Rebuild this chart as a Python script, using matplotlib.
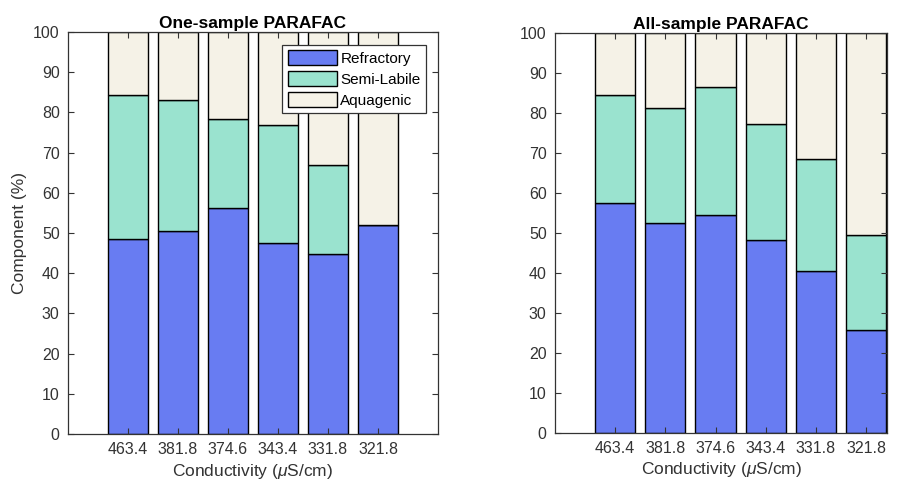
import numpy as np
import matplotlib.pyplot as plt

plt.rcParams['font.family'] = ['Liberation Sans', 'DejaVu Sans']
plt.rcParams['mathtext.fontset'] = 'custom'
plt.rcParams['mathtext.it'] = 'Liberation Sans:italic'

conductividad = ['463.4', '381.8', '374.6', '343.4', '331.8', '321.8']
componentes = ['Refractory', 'Semi-Labile', 'Aquagenic']
colores = ['#687cf2', '#9ae3cf', '#f5f2e7']

# One-sample PARAFAC (%)
ref_one = [48.5, 50.5, 56.3, 47.4, 44.9, 52.0]
semi_one = [35.9, 32.6, 22.1, 29.4, 21.9, 0.0]
aqua_one = [15.6, 16.9, 21.6, 23.2, 33.2, 48.0]

# All-sample PARAFAC (%)
ref_all = [57.4, 52.5, 54.4, 48.2, 40.4, 25.7]
semi_all = [26.9, 28.6, 31.9, 28.9, 27.9, 23.6]
aqua_all = [15.7, 18.9, 13.7, 22.9, 31.7, 50.7]

gris = '#333333'

fig = plt.figure(figsize=(9.2, 4.84), dpi=100)
ax1 = fig.add_axes([0.0739, 0.1033, 0.4022, 0.8306])
ax2 = fig.add_axes([0.6033, 0.1060, 0.3609, 0.8265])

xx = np.arange(1, 7)


def barras(ax, datos, titulo, x_der):
    base = np.zeros(len(xx))
    for serie, col, lab in zip(datos, colores, componentes):
        ax.bar(xx, serie, 0.8, bottom=base, color=col, edgecolor='black',
               linewidth=1.0, label=lab)
        base = base + np.array(serie)
    ax.set_xlim(-0.2, x_der)
    ax.set_ylim(0, 100)
    ax.set_yticks(np.arange(0, 101, 10))
    ax.set_xticks(xx)
    ax.set_xticklabels(conductividad)
    ax.tick_params(direction='in', top=True, right=True, labelsize=11.5,
                   length=4, width=0.8, colors=gris, pad=6)
    for s in ax.spines.values():
        s.set_color(gris)
        s.set_linewidth(0.9)
    ax.set_title(titulo, fontsize=12.5, fontweight='bold', pad=3)
    ax.set_xlabel(r'Conductivity ($\mu$S/cm)', fontsize=12.5, color=gris,
                  labelpad=3)


barras(ax1, [ref_one, semi_one, aqua_one], 'One-sample PARAFAC', 7.2)
barras(ax2, [ref_all, semi_all, aqua_all], 'All-sample PARAFAC', 6.42)

ax1.set_ylabel('Component (%)', fontsize=12.5, color=gris, labelpad=4)
leg = ax1.legend(loc='upper right', bbox_to_anchor=(0.9676, 0.9677),
                 fontsize=11, fancybox=False, framealpha=1, edgecolor=gris,
                 handlelength=3.2, handleheight=1.1, borderpad=0.35,
                 labelspacing=0.35, handletextpad=0.25, borderaxespad=0)
leg.get_frame().set_linewidth(0.9)

plt.savefig('out.png', dpi=100)
